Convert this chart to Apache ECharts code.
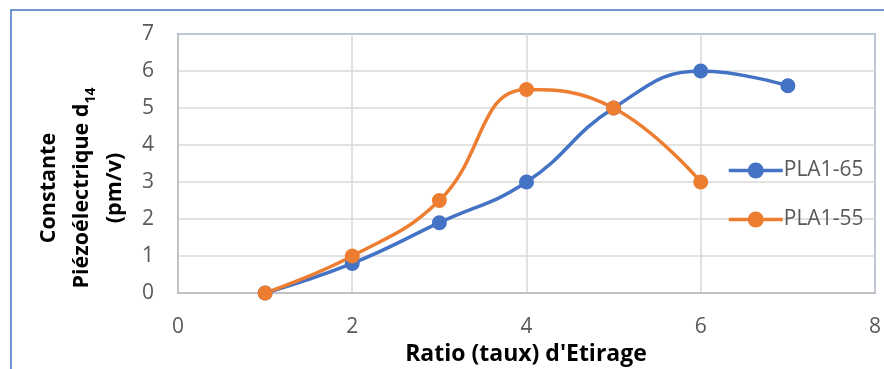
<!DOCTYPE html>
<html><head><meta charset="utf-8">
<script src="https://cdn.jsdelivr.net/npm/echarts@6/dist/echarts.min.js"></script>
<style>html,body{margin:0;padding:0;background:#fff}#c{width:884px;height:369px}</style>
</head><body><div id="c"></div>
<script>
var ratios65 = [1, 2, 3, 4, 5, 6, 7];
var values65 = [0, 0.8, 1.9, 3, 5, 6, 5.6];
var ratios55 = [1, 2, 3, 4, 5, 6];
var values55 = [0, 1, 2.5, 5.5, 5, 3];
var seriesNames = ['PLA1-65', 'PLA1-55'];
var xTitle = "Ratio (taux) d'Etirage";

function pairs(xs, ys) { return xs.map(function (x, i) { return [x, ys[i]]; }); }
var FONT = '"Open Sans", "Noto Sans", sans-serif';
var chart = echarts.init(document.getElementById('c'));
chart.setOption({
  animation: false,
  backgroundColor: '#fff',
  color: ['#4472C4', '#ED7D31'],
  grid: { left: 178, right: 9, top: 34, bottom: 76, show: true, borderColor: '#4472C4', borderWidth: 1.5, backgroundColor: 'transparent' },
  xAxis: {
    type: 'value', min: 0, max: 8, interval: 2,
    axisLine: { show: true, lineStyle: { color: '#BFBFBF', width: 1.5 } },
    axisTick: { show: false },
    splitLine: { show: true, lineStyle: { color: '#D9D9D9', width: 1.5 } },
    axisLabel: { color: '#595959', fontSize: 21, fontFamily: FONT, margin: 24 }
  },
  yAxis: {
    type: 'value', min: 0, max: 7, interval: 1,
    axisLine: { show: true, lineStyle: { color: '#BFBFBF', width: 1.5 } },
    axisTick: { show: false },
    splitLine: { show: true, lineStyle: { color: '#D9D9D9', width: 1.5 } },
    axisLabel: { color: '#595959', fontSize: 21, fontFamily: FONT, margin: 24 }
  },
  legend: {
    orient: 'vertical', left: 722, top: 155, itemGap: 28,
    itemWidth: 54, itemHeight: 20,
    lineStyle: { width: 3.5 },
    textStyle: { color: '#595959', fontSize: 21, fontFamily: FONT, padding: [0, 0, 0, -4] },
    data: seriesNames
  },
  series: [
    { name: seriesNames[0], type: 'line', smooth: 0.45, data: pairs(ratios65, values65),
      symbol: 'circle', symbolSize: 15, lineStyle: { width: 3.5 } },
    { name: seriesNames[1], type: 'line', smooth: 0.45, data: pairs(ratios55, values55),
      symbol: 'circle', symbolSize: 15, lineStyle: { width: 3.5 } }
  ],
  graphic: [
    { type: 'rect', shape: { x: 11, y: 10, width: 900, height: 400 }, style: { fill: 'none', stroke: '#4472C4', lineWidth: 1.5 }, z: -10 },
    { type: 'text', x: 526, y: 354, style: { text: xTitle, fontSize: 23, fontWeight: 'bold', fontFamily: FONT, fill: '#000', align: 'center', verticalAlign: 'middle' } },
    { type: 'text', x: 82, y: 188, rotation: Math.PI / 2,
      style: {
        text: '{a|Constante}\n{a|Piézoélectrique d}{s|14}\n{a|(pm/v)}',
        align: 'center', verticalAlign: 'middle', fill: '#000',
        rich: {
          a: { fontSize: 21.5, fontWeight: 'bold', fontFamily: FONT, lineHeight: 33, fill: '#000' },
          s: { fontSize: 14, fontWeight: 'bold', fontFamily: FONT, lineHeight: 33, verticalAlign: 'bottom', padding: [9, 0, 0, 0], fill: '#000' }
        }
      } }
  ]
});
</script></body></html>
